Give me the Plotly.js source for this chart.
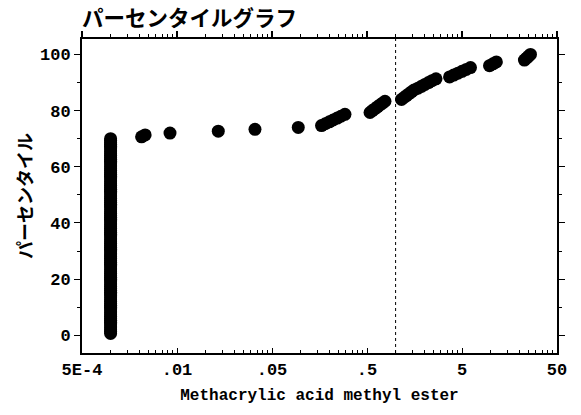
<!DOCTYPE html>
<html>
<head>
<meta charset="utf-8">
<script src="https://cdn.plot.ly/plotly-3.0.1.min.js"></script>
<style>
  html, body { margin: 0; padding: 0; background: #fff; }
  #chart { width: 581px; height: 415px; }
</style>
</head>
<body>
<div id="chart"></div>
<script>
// Samples below the detection limit, recorded at 0.001
const nonDetects = [
  0.001, 0.001, 0.001, 0.001, 0.001, 0.001, 0.001, 0.001, 0.001, 0.001, 0.001, 0.001, 0.001, 0.001, 0.001,
  0.001, 0.001, 0.001, 0.001, 0.001, 0.001, 0.001, 0.001, 0.001, 0.001, 0.001, 0.001, 0.001, 0.001, 0.001,
  0.001, 0.001, 0.001, 0.001, 0.001, 0.001, 0.001, 0.001, 0.001, 0.001, 0.001, 0.001, 0.001, 0.001, 0.001,
  0.001, 0.001, 0.001, 0.001, 0.001, 0.001, 0.001, 0.001, 0.001, 0.001, 0.001, 0.001, 0.001, 0.001, 0.001,
  0.001, 0.001, 0.001, 0.001, 0.001, 0.001, 0.001, 0.001, 0.001, 0.001, 0.001, 0.001, 0.001, 0.001, 0.001,
  0.001, 0.001, 0.001, 0.001, 0.001, 0.001, 0.001, 0.001, 0.001, 0.001, 0.001, 0.001, 0.001, 0.001, 0.001,
  0.001, 0.001, 0.001, 0.001, 0.001, 0.001, 0.001, 0.001, 0.001, 0.001, 0.001, 0.001, 0.001, 0.001, 0.001
];

// Detected concentrations, ascending
const detected = [
  0.00212, 0.00231, 0.00422, 0.0136, 0.0331, 0.0945,
  0.166, 0.182, 0.201, 0.220, 0.243, 0.266, 0.293,
  0.538, 0.570, 0.607, 0.645, 0.684, 0.728, 0.773,
  1.154, 1.226, 1.302, 1.383, 1.469, 1.561, 1.719, 1.872, 2.039, 2.220, 2.417, 2.662,
  3.70, 4.09, 4.53, 5.01, 5.55, 6.14,
  9.74, 10.6, 11.5,
  22.7, 23.9, 25.0, 26.3
];

const xTickVals = [5e-4, 5e-3, 5e-2, 0.5, 5, 50];
const xTickText = ['5E-4', '.01', '.05', '.5', '5', '50'];
const yTickVals = [0, 20, 40, 60, 80, 100];
const referenceValue = 1;

// Percentile rank of each sorted measurement
const sorted = nonDetects.concat(detected).slice().sort((a, b) => a - b);
const percentiles = sorted.map((v, i) => 100 * (i + 1) / sorted.length);

// Minor ticks: 2x..9x of each labelled step
const xMinor = [];
xTickVals.slice(0, -1).forEach(v => { for (let k = 2; k <= 9; k++) xMinor.push(v * k); });

const xRange = [Math.log10(xTickVals[0]), Math.log10(xTickVals[xTickVals.length - 1])];
const yRange = [-6.3, 105.5];

const mono = { family: 'Liberation Mono, DejaVu Sans Mono, monospace', size: 17, color: '#000', weight: 'bold' };
const jp = 'Noto Sans CJK JP, Noto Sans, sans-serif';

const traces = [
  {
    type: 'scatter', mode: 'markers',
    x: sorted, y: percentiles,
    marker: { color: '#000', size: 13 },
    hoverinfo: 'x+y'
  },
  // dotted reference line at the guideline value, drawn against the top axis
  {
    type: 'scatter', mode: 'lines',
    x: [referenceValue, referenceValue], y: yRange,
    xaxis: 'x2', yaxis: 'y',
    line: { color: '#000', width: 1, dash: 'dot' },
    hoverinfo: 'skip', showlegend: false
  }
];

const layout = {
  width: 581, height: 415,
  margin: { l: 82, r: 24, t: 39, b: 62 },
  showlegend: false,
  title: {
    text: 'パーセンタイルグラフ',
    font: { family: jp, size: 21.5, color: '#000', weight: 'bold' },
    x: 0, xref: 'paper', xanchor: 'left',
    y: 1 - 18.5 / 415, yref: 'container', yanchor: 'middle'
  },
  xaxis: {
    type: 'log', range: xRange, autorange: false,
    tickmode: 'array', tickvals: xTickVals, ticktext: xTickText,
    ticks: 'inside', ticklen: 5, tickcolor: '#000',
    showline: true, linecolor: '#000', linewidth: 2, mirror: false,
    showgrid: false, zeroline: false,
    tickfont: mono,
    minor: { tickmode: 'array', tickvals: xMinor, ticks: 'inside', ticklen: 3, tickwidth: 1, tickcolor: '#000', showgrid: false },
    title: { text: 'Methacrylic acid methyl ester', font: { family: 'Liberation Mono, DejaVu Sans Mono, monospace', size: 16, color: '#000', weight: 'bold' }, standoff: 9 }
  },
  xaxis2: {
    type: 'log', range: xRange, autorange: false, overlaying: 'x', side: 'top', anchor: 'y',
    tickmode: 'array', tickvals: xTickVals,
    ticks: 'outside', ticklen: 6, tickwidth: 2, tickcolor: '#000',
    showticklabels: false,
    showline: true, linecolor: '#000', linewidth: 2,
    showgrid: false, zeroline: false,
    minor: { tickmode: 'array', tickvals: xMinor, ticks: 'outside', ticklen: 3, tickwidth: 1, tickcolor: '#000', showgrid: false }
  },
  yaxis: {
    range: yRange, autorange: false,
    tickmode: 'array', tickvals: yTickVals,
    ticks: 'outside', ticklen: 6, tickcolor: '#000',
    showline: true, linecolor: '#000', linewidth: 2, mirror: 'ticks',
    showgrid: false, zeroline: false,
    tickfont: mono,
    minor: { dtick: 10, tick0: 0, ticks: 'outside', ticklen: 3, tickcolor: '#000' },
    title: { text: 'パーセンタイル', font: { family: jp, size: 18, color: '#000', weight: 'bold' }, standoff: 3 }
  }
};

Plotly.newPlot('chart', traces, layout, { displayModeBar: false, staticPlot: true });
</script>
</body>
</html>
